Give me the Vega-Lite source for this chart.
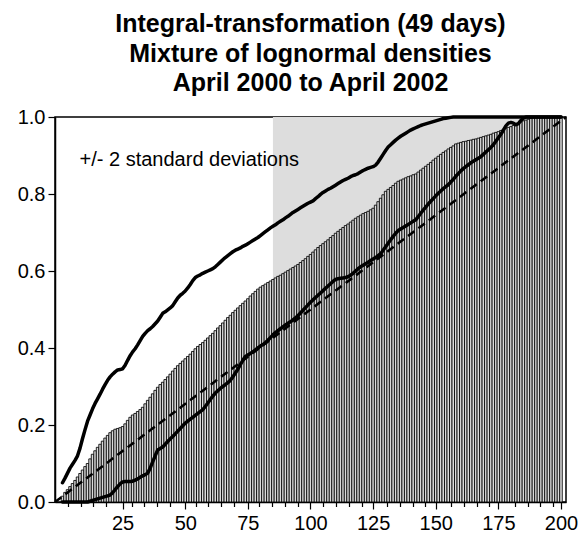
{
"$schema": "https://vega.github.io/schema/vega-lite/v6.json",
"autosize": {"type": "none"},
"padding": {"left": 55, "top": 117, "right": 22, "bottom": 38},
"width": 511,
"height": 385,
"background": "white",
"config": {"view": {"stroke": "black", "strokeWidth": 1.5}, "font": "Liberation Sans"},
"title": {"text": ["Integral-transformation (49 days)", "Mixture of lognormal densities", "April 2000 to April 2002"], "font": "Liberation Sans", "fontSize": 25, "fontWeight": "bold", "color": "black", "lineHeight": 29.5, "anchor": "middle", "offset": 11},
"datasets": {
"main": [
{"i":1,"cdf":0.015,"up":0.050,"lo":0},{"i":2,"cdf":0.025,"up":0.062,"lo":0},{"i":3,"cdf":0.032,"up":0.075,"lo":0},{"i":4,"cdf":0.040,"up":0.088,"lo":0},{"i":5,"cdf":0.048,"up":0.098,"lo":0},
{"i":6,"cdf":0.056,"up":0.108,"lo":0},{"i":7,"cdf":0.065,"up":0.120,"lo":0},{"i":8,"cdf":0.074,"up":0.140,"lo":0},{"i":9,"cdf":0.083,"up":0.165,"lo":0},{"i":10,"cdf":0.092,"up":0.188,"lo":0},
{"i":11,"cdf":0.100,"up":0.210,"lo":0.000},{"i":12,"cdf":0.112,"up":0.226,"lo":0.002},{"i":13,"cdf":0.124,"up":0.242,"lo":0.004},{"i":14,"cdf":0.133,"up":0.256,"lo":0.006},{"i":15,"cdf":0.142,"up":0.268,"lo":0.008},
{"i":16,"cdf":0.150,"up":0.280,"lo":0.010},{"i":17,"cdf":0.158,"up":0.293,"lo":0.012},{"i":18,"cdf":0.166,"up":0.305,"lo":0.014},{"i":19,"cdf":0.173,"up":0.316,"lo":0.016},{"i":20,"cdf":0.180,"up":0.325,"lo":0.018},
{"i":21,"cdf":0.185,"up":0.332,"lo":0.024},{"i":22,"cdf":0.189,"up":0.338,"lo":0.032},{"i":23,"cdf":0.191,"up":0.343,"lo":0.040},{"i":24,"cdf":0.193,"up":0.344,"lo":0.047},{"i":25,"cdf":0.196,"up":0.346,"lo":0.052},
{"i":26,"cdf":0.203,"up":0.355,"lo":0.053},{"i":27,"cdf":0.212,"up":0.368,"lo":0.053},{"i":28,"cdf":0.220,"up":0.380,"lo":0.053},{"i":29,"cdf":0.226,"up":0.390,"lo":0.054},{"i":30,"cdf":0.230,"up":0.398,"lo":0.057},
{"i":31,"cdf":0.235,"up":0.408,"lo":0.060},{"i":32,"cdf":0.240,"up":0.419,"lo":0.064},{"i":33,"cdf":0.246,"up":0.430,"lo":0.068},{"i":34,"cdf":0.255,"up":0.438,"lo":0.071},{"i":35,"cdf":0.264,"up":0.445,"lo":0.075},
{"i":36,"cdf":0.272,"up":0.450,"lo":0.088},{"i":37,"cdf":0.281,"up":0.456,"lo":0.104},{"i":38,"cdf":0.290,"up":0.463,"lo":0.120},{"i":39,"cdf":0.298,"up":0.470,"lo":0.135},{"i":40,"cdf":0.305,"up":0.480,"lo":0.139},
{"i":41,"cdf":0.311,"up":0.490,"lo":0.143},{"i":42,"cdf":0.318,"up":0.494,"lo":0.150},{"i":43,"cdf":0.325,"up":0.499,"lo":0.157},{"i":44,"cdf":0.332,"up":0.504,"lo":0.164},{"i":45,"cdf":0.340,"up":0.510,"lo":0.170},
{"i":46,"cdf":0.347,"up":0.520,"lo":0.177},{"i":47,"cdf":0.354,"up":0.530,"lo":0.184},{"i":48,"cdf":0.360,"up":0.537,"lo":0.191},{"i":49,"cdf":0.366,"up":0.542,"lo":0.198},{"i":50,"cdf":0.372,"up":0.548,"lo":0.205},
{"i":51,"cdf":0.378,"up":0.556,"lo":0.210},{"i":52,"cdf":0.384,"up":0.565,"lo":0.215},{"i":53,"cdf":0.391,"up":0.575,"lo":0.220},{"i":54,"cdf":0.398,"up":0.583,"lo":0.225},{"i":55,"cdf":0.404,"up":0.587,"lo":0.230},
{"i":56,"cdf":0.409,"up":0.590,"lo":0.235},{"i":57,"cdf":0.414,"up":0.594,"lo":0.240},{"i":58,"cdf":0.420,"up":0.597,"lo":0.248},{"i":59,"cdf":0.426,"up":0.600,"lo":0.257},{"i":60,"cdf":0.432,"up":0.603,"lo":0.266},
{"i":61,"cdf":0.438,"up":0.606,"lo":0.275},{"i":62,"cdf":0.445,"up":0.611,"lo":0.283},{"i":63,"cdf":0.452,"up":0.617,"lo":0.289},{"i":64,"cdf":0.458,"up":0.623,"lo":0.295},{"i":65,"cdf":0.465,"up":0.629,"lo":0.300},
{"i":66,"cdf":0.472,"up":0.635,"lo":0.305},{"i":67,"cdf":0.479,"up":0.640,"lo":0.310},{"i":68,"cdf":0.485,"up":0.645,"lo":0.316},{"i":69,"cdf":0.492,"up":0.650,"lo":0.325},{"i":70,"cdf":0.498,"up":0.654,"lo":0.335},
{"i":71,"cdf":0.504,"up":0.657,"lo":0.345},{"i":72,"cdf":0.510,"up":0.660,"lo":0.357},{"i":73,"cdf":0.516,"up":0.664,"lo":0.368},{"i":74,"cdf":0.522,"up":0.667,"lo":0.378},{"i":75,"cdf":0.528,"up":0.671,"lo":0.382},
{"i":76,"cdf":0.535,"up":0.675,"lo":0.386},{"i":77,"cdf":0.541,"up":0.679,"lo":0.390},{"i":78,"cdf":0.547,"up":0.683,"lo":0.395},{"i":79,"cdf":0.553,"up":0.687,"lo":0.400},{"i":80,"cdf":0.558,"up":0.692,"lo":0.405},
{"i":81,"cdf":0.562,"up":0.697,"lo":0.409},{"i":82,"cdf":0.566,"up":0.702,"lo":0.414},{"i":83,"cdf":0.570,"up":0.707,"lo":0.420},{"i":84,"cdf":0.574,"up":0.712,"lo":0.427},{"i":85,"cdf":0.578,"up":0.716,"lo":0.434},
{"i":86,"cdf":0.582,"up":0.720,"lo":0.440},{"i":87,"cdf":0.586,"up":0.725,"lo":0.445},{"i":88,"cdf":0.589,"up":0.729,"lo":0.450},{"i":89,"cdf":0.593,"up":0.733,"lo":0.455},{"i":90,"cdf":0.597,"up":0.738,"lo":0.460},
{"i":91,"cdf":0.601,"up":0.742,"lo":0.464},{"i":92,"cdf":0.605,"up":0.747,"lo":0.468},{"i":93,"cdf":0.609,"up":0.752,"lo":0.473},{"i":94,"cdf":0.613,"up":0.756,"lo":0.478},{"i":95,"cdf":0.617,"up":0.760,"lo":0.484},
{"i":96,"cdf":0.622,"up":0.764,"lo":0.491},{"i":97,"cdf":0.627,"up":0.768,"lo":0.498},{"i":98,"cdf":0.632,"up":0.772,"lo":0.505},{"i":99,"cdf":0.638,"up":0.776,"lo":0.512},{"i":100,"cdf":0.643,"up":0.779,"lo":0.519},
{"i":101,"cdf":0.649,"up":0.782,"lo":0.525},{"i":102,"cdf":0.655,"up":0.788,"lo":0.531},{"i":103,"cdf":0.661,"up":0.793,"lo":0.537},{"i":104,"cdf":0.666,"up":0.799,"lo":0.543},{"i":105,"cdf":0.671,"up":0.804,"lo":0.549},
{"i":106,"cdf":0.676,"up":0.808,"lo":0.555},{"i":107,"cdf":0.681,"up":0.812,"lo":0.561},{"i":108,"cdf":0.687,"up":0.815,"lo":0.567},{"i":109,"cdf":0.692,"up":0.819,"lo":0.573},{"i":110,"cdf":0.698,"up":0.823,"lo":0.578},
{"i":111,"cdf":0.703,"up":0.827,"lo":0.580},{"i":112,"cdf":0.708,"up":0.831,"lo":0.581},{"i":113,"cdf":0.713,"up":0.835,"lo":0.582},{"i":114,"cdf":0.718,"up":0.838,"lo":0.583},{"i":115,"cdf":0.722,"up":0.841,"lo":0.585},
{"i":116,"cdf":0.727,"up":0.845,"lo":0.589},{"i":117,"cdf":0.732,"up":0.848,"lo":0.594},{"i":118,"cdf":0.737,"up":0.850,"lo":0.600},{"i":119,"cdf":0.741,"up":0.853,"lo":0.606},{"i":120,"cdf":0.745,"up":0.857,"lo":0.611},
{"i":121,"cdf":0.749,"up":0.861,"lo":0.615},{"i":122,"cdf":0.752,"up":0.864,"lo":0.619},{"i":123,"cdf":0.755,"up":0.867,"lo":0.623},{"i":124,"cdf":0.759,"up":0.869,"lo":0.627},{"i":125,"cdf":0.763,"up":0.871,"lo":0.631},
{"i":126,"cdf":0.771,"up":0.875,"lo":0.635},{"i":127,"cdf":0.780,"up":0.883,"lo":0.640},{"i":128,"cdf":0.789,"up":0.893,"lo":0.645},{"i":129,"cdf":0.798,"up":0.903,"lo":0.654},{"i":130,"cdf":0.807,"up":0.913,"lo":0.663},
{"i":131,"cdf":0.812,"up":0.922,"lo":0.672},{"i":132,"cdf":0.817,"up":0.928,"lo":0.681},{"i":133,"cdf":0.822,"up":0.934,"lo":0.690},{"i":134,"cdf":0.828,"up":0.940,"lo":0.698},{"i":135,"cdf":0.833,"up":0.945,"lo":0.705},
{"i":136,"cdf":0.836,"up":0.950,"lo":0.709},{"i":137,"cdf":0.839,"up":0.954,"lo":0.713},{"i":138,"cdf":0.842,"up":0.958,"lo":0.717},{"i":139,"cdf":0.845,"up":0.962,"lo":0.721},{"i":140,"cdf":0.847,"up":0.966,"lo":0.725},
{"i":141,"cdf":0.850,"up":0.969,"lo":0.729},{"i":142,"cdf":0.852,"up":0.972,"lo":0.733},{"i":143,"cdf":0.857,"up":0.975,"lo":0.741},{"i":144,"cdf":0.862,"up":0.978,"lo":0.750},{"i":145,"cdf":0.867,"up":0.980,"lo":0.758},
{"i":146,"cdf":0.872,"up":0.982,"lo":0.766},{"i":147,"cdf":0.877,"up":0.984,"lo":0.774},{"i":148,"cdf":0.882,"up":0.986,"lo":0.781},{"i":149,"cdf":0.888,"up":0.988,"lo":0.788},{"i":150,"cdf":0.893,"up":0.990,"lo":0.795},
{"i":151,"cdf":0.898,"up":0.992,"lo":0.802},{"i":152,"cdf":0.903,"up":0.994,"lo":0.808},{"i":153,"cdf":0.908,"up":0.996,"lo":0.814},{"i":154,"cdf":0.912,"up":0.997,"lo":0.819},{"i":155,"cdf":0.917,"up":0.998,"lo":0.824},
{"i":156,"cdf":0.921,"up":0.999,"lo":0.831},{"i":157,"cdf":0.925,"up":1.0,"lo":0.838},{"i":158,"cdf":0.930,"up":1.0,"lo":0.846},{"i":159,"cdf":0.932,"up":1.0,"lo":0.853},{"i":160,"cdf":0.934,"up":1.0,"lo":0.860},
{"i":161,"cdf":0.936,"up":1.0,"lo":0.866},{"i":162,"cdf":0.937,"up":1.0,"lo":0.871},{"i":163,"cdf":0.939,"up":1.0,"lo":0.876},{"i":164,"cdf":0.940,"up":1.0,"lo":0.881},{"i":165,"cdf":0.942,"up":1.0,"lo":0.885},
{"i":166,"cdf":0.943,"up":1.0,"lo":0.889},{"i":167,"cdf":0.945,"up":1.0,"lo":0.893},{"i":168,"cdf":0.947,"up":1.0,"lo":0.897},{"i":169,"cdf":0.949,"up":1.0,"lo":0.903},{"i":170,"cdf":0.951,"up":1.0,"lo":0.909},
{"i":171,"cdf":0.953,"up":1.0,"lo":0.915},{"i":172,"cdf":0.955,"up":1.0,"lo":0.921},{"i":173,"cdf":0.958,"up":1.0,"lo":0.928},{"i":174,"cdf":0.960,"up":1.0,"lo":0.937},{"i":175,"cdf":0.962,"up":1.0,"lo":0.946},
{"i":176,"cdf":0.965,"up":1.0,"lo":0.955},{"i":177,"cdf":0.968,"up":1.0,"lo":0.966},{"i":178,"cdf":0.971,"up":1.0,"lo":0.977},{"i":179,"cdf":0.973,"up":1.0,"lo":0.984},{"i":180,"cdf":0.975,"up":1.0,"lo":0.986},
{"i":181,"cdf":0.978,"up":1.0,"lo":0.984},{"i":182,"cdf":0.981,"up":1.0,"lo":0.980},{"i":183,"cdf":0.984,"up":1.0,"lo":0.983},{"i":184,"cdf":0.987,"up":1.0,"lo":0.991},{"i":185,"cdf":0.990,"up":1.0,"lo":0.997},
{"i":186,"cdf":0.992,"up":1.0,"lo":1.0},{"i":187,"cdf":0.994,"up":1.0,"lo":1.0},{"i":188,"cdf":0.996,"up":1.0,"lo":1.0},{"i":189,"cdf":0.998,"up":1.0,"lo":1.0},{"i":190,"cdf":1.0,"up":1.0,"lo":1.0},
{"i":191,"cdf":1.0,"up":1.0,"lo":1.0},{"i":192,"cdf":1.0,"up":1.0,"lo":1.0},{"i":193,"cdf":1.0,"up":1.0,"lo":1.0},{"i":194,"cdf":1.0,"up":1.0,"lo":1.0},{"i":195,"cdf":1.0,"up":1.0,"lo":1.0},
{"i":196,"cdf":1.0,"up":1.0,"lo":1.0},{"i":197,"cdf":1.0,"up":1.0,"lo":1.0},{"i":198,"cdf":1.0,"up":1.0,"lo":1.0},{"i":199,"cdf":1.0,"up":1.0,"lo":1.0},{"i":200,"cdf":1.0,"up":1.0,"lo":1.0}
],
"diag": [{"i": 0, "u": 0}, {"i": 200, "u": 1}],
"band": [{"start": 85, "end": 200, "lo": 0, "hi": 1}],
"note": [{"i": 7.8, "y": 0.888, "label": "+/- 2 standard deviations"}]
},
"resolve": {"scale": {"x": "independent"}},
"layer": [
{
"layer": [
{"data": {"name": "band"}, "mark": {"type": "rect", "fill": "#dddddd"},
 "encoding": {
  "x": {"field": "start", "type": "quantitative", "scale": {"domain": [0, 200], "nice": false, "zero": false},
        "axis": {"orient": "bottom", "values": [25, 50, 75, 100, 125, 150, 175, 200], "format": "d", "title": null, "grid": false,
                 "labelFont": "Liberation Sans", "labelFontSize": 20, "labelColor": "black", "labelPadding": 4,
                 "tickColor": "black", "tickSize": 7, "tickWidth": 1.2, "domainColor": "black", "domainWidth": 1.5, "labelFlush": false, "labelOverlap": false}},
  "x2": {"field": "end"},
  "y": {"field": "lo", "type": "quantitative", "scale": {"domain": [0, 1], "nice": false, "zero": false},
        "axis": {"values": [0, 0.2, 0.4, 0.6, 0.8, 1.0], "format": ".1f", "title": null, "grid": false,
                 "labelFont": "Liberation Sans", "labelFontSize": 20, "labelColor": "black", "labelPadding": 3,
                 "tickColor": "black", "tickSize": 7, "tickWidth": 1.2, "domainColor": "black", "domainWidth": 1.5, "labelFlush": false}},
  "y2": {"field": "hi"}
 }},
{"data": {"name": "main"}, "mark": {"type": "bar", "width": 2.555, "fill": "#dadada", "stroke": "black", "strokeWidth": 0.85, "clip": true},
 "encoding": {
  "x": {"field": "i", "type": "quantitative"},
  "y": {"field": "cdf", "type": "quantitative"}
 }},
{"data": {"name": "main"}, "mark": {"type": "line", "color": "black", "strokeWidth": 3.5, "strokeJoin": "round", "strokeCap": "round"},
 "encoding": {
  "x": {"field": "i", "type": "quantitative"},
  "y": {"field": "up", "type": "quantitative"}
 }},
{"data": {"name": "main"}, "mark": {"type": "line", "color": "black", "strokeWidth": 3.5, "strokeJoin": "round", "strokeCap": "round"},
 "encoding": {
  "x": {"field": "i", "type": "quantitative"},
  "y": {"field": "lo", "type": "quantitative"}
 }},
{"data": {"name": "note"}, "mark": {"type": "text", "align": "left", "baseline": "middle", "font": "Liberation Sans", "fontSize": 20, "color": "black"},
 "encoding": {
  "x": {"field": "i", "type": "quantitative"},
  "y": {"field": "y", "type": "quantitative"},
  "text": {"field": "label"}
 }}
]
},
{"data": {"name": "diag"}, "mark": {"type": "line", "color": "black", "strokeWidth": 2.5, "strokeDash": [8, 5]},
 "encoding": {
  "x": {"field": "i", "type": "quantitative", "scale": {"domain": [0, 200], "nice": false, "zero": false},
        "axis": {"orient": "bottom", "values": [5,10,15,20,30,35,40,45,55,60,65,70,80,85,90,95,105,110,115,120,130,135,140,145,155,160,165,170,180,185,190,195],
                 "labels": false, "domain": false, "title": null, "grid": false, "tickColor": "black", "tickSize": 4.5, "tickWidth": 1.2}},
  "y": {"field": "u", "type": "quantitative"}
 }}
]
}
